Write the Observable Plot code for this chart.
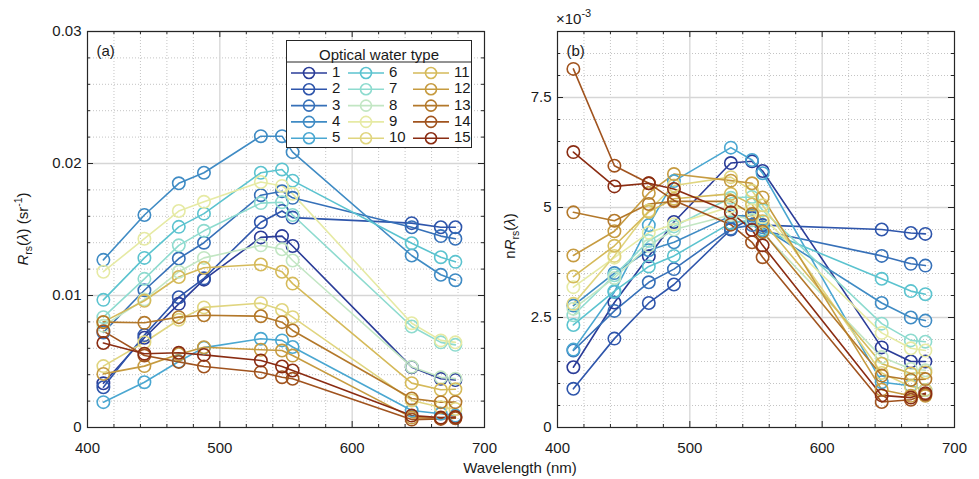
<!DOCTYPE html>
<html><head><meta charset="utf-8">
<script src="https://cdn.jsdelivr.net/npm/d3@7"></script>
<script src="https://cdn.jsdelivr.net/npm/@observablehq/plot@0.6"></script>
<style>
body{margin:0;background:#fff;font-family:"Liberation Sans",Arial,sans-serif;color:#1a1a1a;}
#wrap{position:relative;width:979px;height:479px;overflow:hidden;}
.abs{position:absolute;white-space:nowrap;}
.ylab{font-size:15px;transform:translate(-50%,-50%) rotate(-90deg);}
sub,sup{font-size:70%;}
</style></head><body><div id="wrap"></div>
<script>
const wavelengths = [412, 443, 469, 488, 531, 547, 555, 645, 667, 678];
const waterTypes = [1,2,3,4,5,6,7,8,9,10,11,12,13,14,15];
const typeColors = ["#2a3c98","#2e55ab","#3670b8","#3f8bc4","#4aa7d1","#5bc3cf","#8edbcf","#c2e6c3","#e6eaa4","#e0d57f","#d5ba5a","#c69b40","#b3782a","#a0531e","#8a2c12"];
// Rrs values (x 10^-3 sr^-1), one row per optical water type
const rrsE3 = [
  [3.35, 6.8, 9.37, 11.2, 14.4, 14.5, 13.75, 4.57, 3.69, 3.6],
  [3.05, 7.0, 9.87, 11.3, 15.55, 16.4, 15.9, 15.48, 15.17, 15.17],
  [7.2, 10.4, 12.8, 14.0, 17.6, 17.9, 17.4, 15.17, 14.5, 14.3],
  [12.7, 16.1, 18.5, 19.3, 22.07, 22.07, 20.86, 13.03, 11.57, 11.16],
  [1.92, 3.43, 5.0, 6.05, 6.72, 6.6, 6.1, 1.29, 1.04, 0.9],
  [9.67, 12.85, 15.2, 16.2, 19.3, 19.55, 18.7, 13.96, 12.9, 12.55],
  [8.36, 11.26, 13.8, 14.9, 17.0, 17.07, 16.1, 7.65, 6.45, 6.26],
  [7.7, 9.7, 11.8, 12.85, 13.8, 13.5, 12.65, 4.6, 3.8, 3.7],
  [11.8, 14.3, 16.4, 17.1, 18.6, 18.3, 17.7, 7.9, 6.6, 6.45],
  [4.65, 6.46, 8.16, 9.1, 9.42, 8.9, 8.36, 2.05, 1.54, 1.4],
  [8.0, 9.6, 11.4, 12.1, 12.35, 11.8, 10.9, 3.36, 2.86, 2.9],
  [4.06, 4.65, 5.55, 6.08, 5.89, 5.83, 5.45, 0.75, 0.7, 0.75],
  [7.98, 7.93, 8.36, 8.5, 8.43, 7.98, 7.35, 2.2, 1.92, 1.92],
  [7.3, 5.45, 4.97, 4.62, 4.19, 3.81, 3.69, 0.6, 0.65, 0.7],
  [6.4, 5.59, 5.66, 5.5, 5.08, 4.62, 4.32, 0.9, 0.75, 0.8]
];
// nRrs values (x 10^-3)
const nrrsE3 = [
  [1.37, 2.84, 3.89, 4.67, 6.01, 6.05, 5.83, 1.82, 1.5, 1.5],
  [0.88, 2.02, 2.83, 3.25, 4.5, 4.76, 4.6, 4.5, 4.42, 4.4],
  [1.75, 2.65, 3.3, 3.6, 4.52, 4.6, 4.47, 3.9, 3.72, 3.68],
  [2.77, 3.51, 4.03, 4.21, 4.81, 4.81, 4.55, 2.83, 2.5, 2.43],
  [1.77, 3.08, 4.6, 5.6, 6.36, 6.08, 5.78, 1.03, 0.95, 0.85],
  [2.33, 3.1, 3.66, 3.9, 4.65, 4.71, 4.5, 3.38, 3.1, 3.03],
  [2.55, 3.46, 4.24, 4.57, 5.22, 5.24, 4.94, 2.36, 1.98, 1.95],
  [2.7, 3.4, 4.13, 4.5, 4.83, 4.72, 4.43, 1.6, 1.33, 1.3],
  [3.19, 3.86, 4.43, 4.62, 5.02, 4.94, 4.78, 2.15, 1.8, 1.75],
  [2.81, 3.9, 4.93, 5.5, 5.69, 5.38, 5.05, 1.24, 0.93, 0.85],
  [3.43, 4.13, 4.9, 5.2, 5.31, 5.07, 4.69, 1.45, 1.23, 1.25],
  [3.91, 4.46, 5.33, 5.76, 5.61, 5.55, 5.23, 0.86, 0.72, 0.72],
  [4.89, 4.7, 5.08, 5.14, 5.14, 4.85, 4.45, 1.18, 1.08, 1.1],
  [8.15, 5.95, 5.55, 5.16, 4.61, 4.21, 3.87, 0.58, 0.63, 0.75],
  [6.26, 5.48, 5.55, 5.42, 4.89, 4.49, 4.14, 0.73, 0.68, 0.78]
];
const xTicks = [400, 500, 600, 700];
const xTickLabels = ["400", "500", "600", "700"];
const xMinor = [420, 440, 460, 480, 520, 540, 560, 580, 620, 640, 660, 680];
const rrsTicks = [0, 10, 20, 30];
const rrsTickLabels = ["0", "0.01", "0.02", "0.03"];
const rrsMinor = [2, 4, 6, 8, 12, 14, 16, 18, 22, 24, 26, 28];
const nrrsTicks = [0, 2.5, 5, 7.5];
const nrrsTickLabels = ["0", "2.5", "5", "7.5"];
const nrrsMinor = [0.5, 1, 1.5, 2, 3, 3.5, 4, 4.5, 5.5, 6, 6.5, 7, 8, 8.5];

function tidy(rows) {
  return waterTypes.flatMap((t, i) => wavelengths.map((w, j) => ({type: t, w, v: rows[i][j]})));
}

const FONT = "Liberation Sans, Arial, sans-serif";
const MT = 31, MB = 33, SVGH = 460;
const FH = SVGH - MT - MB;

function panel({rows, yDomain, yTicks, yLabels, yMinor, width, marginLeft, marginRight, tag}) {
  const data = tidy(rows);
  const FW = width - marginLeft - marginRight;
  const ink = "#262626";
  return Plot.plot({
    width, height: SVGH, marginTop: MT, marginBottom: MB, marginLeft, marginRight,
    style: {fontFamily: FONT, fontSize: "15px", background: "transparent", overflow: "visible", color: "#1a1a1a"},
    x: {domain: [400, 700], label: null},
    y: {domain: yDomain, label: null},
    color: {domain: waterTypes, range: typeColors},
    marks: [
      Plot.gridX(xMinor, {stroke: "#c4c4c4", strokeOpacity: 1, strokeDasharray: "1,2"}),
      Plot.gridY(yMinor, {stroke: "#c4c4c4", strokeOpacity: 1, strokeDasharray: "1,2"}),
      Plot.gridX(xTicks.slice(1, -1), {stroke: "#d6d6d6", strokeOpacity: 1, strokeWidth: 1.3}),
      Plot.gridY(yTicks.slice(1), {stroke: "#d6d6d6", strokeOpacity: 1, strokeWidth: 1.3}),
      Plot.line(data, {x: "w", y: "v", z: "type", stroke: "type", strokeWidth: 1.6}),
      Plot.dot(data, {x: "w", y: "v", stroke: "type", r: 6.2, strokeWidth: 1.6, fill: "none"}),
      Plot.frame({stroke: ink, strokeWidth: 1.2}),
      // inward ticks on all four sides
      Plot.ruleX(xTicks, {insetTop: FH - 6, stroke: ink}),
      Plot.ruleX(xTicks, {insetBottom: FH - 6, stroke: ink}),
      Plot.ruleX(xMinor, {insetTop: FH - 3, stroke: ink}),
      Plot.ruleX(xMinor, {insetBottom: FH - 3, stroke: ink}),
      Plot.ruleY(yTicks, {insetRight: FW - 6, stroke: ink}),
      Plot.ruleY(yTicks, {insetLeft: FW - 6, stroke: ink}),
      Plot.ruleY(yMinor, {insetRight: FW - 3, stroke: ink}),
      Plot.ruleY(yMinor, {insetLeft: FW - 3, stroke: ink}),
      Plot.axisX(xTicks, {tickSize: 0, tickPadding: 15, label: null, fontSize: 15,
        tickFormat: d => xTickLabels[xTicks.indexOf(d)]}),
      Plot.axisY(yTicks, {tickSize: 0, tickPadding: 6, label: null, fontSize: 15,
        tickFormat: d => yLabels[yTicks.indexOf(d)]}),
      Plot.text([tag], {frameAnchor: "top-left", dx: 9, dy: 20, fontSize: 15, textAnchor: "start", lineAnchor: "middle", fill: "#1a1a1a"})
    ]
  });
}

const wrap = document.getElementById("wrap");
function place(el, left, top) {
  el.style.position = "absolute"; el.style.left = left + "px"; el.style.top = top + "px";
  wrap.appendChild(el);
}
place(panel({rows: rrsE3, yDomain: [0, 30], yTicks: rrsTicks, yLabels: rrsTickLabels, yMinor: rrsMinor,
  width: 500, marginLeft: 87, marginRight: 16, tag: "(a)"}), 0, 0);
place(panel({rows: nrrsE3, yDomain: [0, 9], yTicks: nrrsTicks, yLabels: nrrsTickLabels, yMinor: nrrsMinor,
  width: 479, marginLeft: 57, marginRight: 25, tag: "(b)"}), 500, 0);

function html(str, cls, left, top, extra) {
  const d = document.createElement("div");
  d.className = "abs " + (cls || "");
  d.innerHTML = str;
  d.style.left = left + "px"; d.style.top = top + "px";
  if (extra) Object.assign(d.style, extra);
  wrap.appendChild(d);
  return d;
}
html('<i>R</i><sub>rs</sub>(<i>λ</i>) (sr<sup>-1</sup>)', "ylab", 23, 229);
html('n<i>R</i><sub>rs</sub>(<i>λ</i>)', "ylab", 511, 236);
html('Wavelength (nm)', "", 520, 459, {fontSize: "15px", transform: "translateX(-50%)"});
html('×10<sup style="font-size:11px;position:relative;top:-1px">-3</sup>', "", 556, 8, {fontSize: "15px"});

// legend
const lg = document.createElement("div");
Object.assign(lg.style, {position: "absolute", left: "286px", top: "40px", width: "186px", height: "108px",
  background: "#fff", border: "1px solid #262626", boxSizing: "border-box"});
wrap.appendChild(lg);
const svg = d3.select(lg).append("svg").attr("width", 186).attr("height", 108)
  .style("position", "absolute").style("left", "-1px").style("top", "-1px").style("font-family", FONT);
svg.append("text").attr("x", 93).attr("y", 16).attr("text-anchor", "middle").attr("dominant-baseline", "middle")
  .attr("font-size", 15).attr("fill", "#1a1a1a").text("Optical water type");
svg.append("line").attr("x1", 0).attr("x2", 186).attr("y1", 22).attr("y2", 22).attr("stroke", "#262626");
const colX = [5, 62, 127];
waterTypes.forEach((t, i) => {
  const c = Math.floor(i / 5), r = i % 5;
  const x0 = colX[c], y = 33 + r * 16.3;
  const g = svg.append("g");
  g.append("line").attr("x1", x0).attr("x2", x0 + 36).attr("y1", y).attr("y2", y)
    .attr("stroke", typeColors[i]).attr("stroke-width", 1.6);
  g.append("circle").attr("cx", x0 + 18).attr("cy", y).attr("r", 5.5).attr("fill", "none")
    .attr("stroke", typeColors[i]).attr("stroke-width", 1.6);
  g.append("text").attr("x", x0 + 41).attr("y", y).attr("dominant-baseline", "middle")
    .attr("font-size", 15).attr("fill", "#1a1a1a").text(String(t));
});
</script></body></html>
